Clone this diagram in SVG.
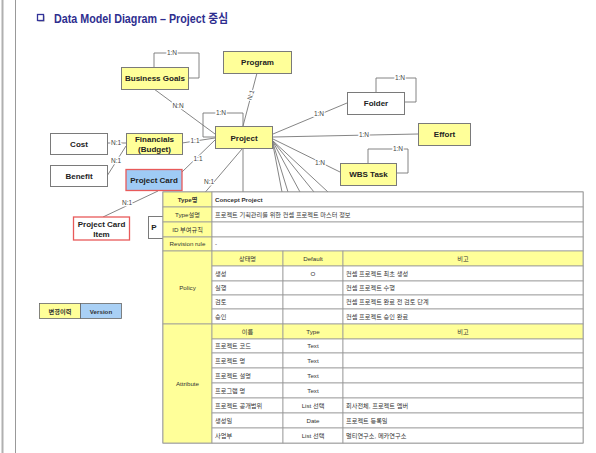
<svg xmlns="http://www.w3.org/2000/svg" width="596" height="453" viewBox="0 0 596 453">
<defs>
<style>
.n{stroke:#7a7a7a;stroke-width:1}
.y{fill:#ffff99}
.w{fill:#ffffff}
.nt{font-family:"Liberation Sans","Noto Sans CJK KR",sans-serif;font-size:8px;font-weight:bold;fill:#222;text-anchor:middle}
.c{stroke:#777;stroke-width:0.9;fill:none}
.lb{font-family:"Liberation Sans",sans-serif;font-size:6.5px;fill:#444;text-anchor:middle;stroke:#fff;stroke-width:2.5px;paint-order:stroke}
.cell{stroke:#999;stroke-width:0.8}
.t{font-family:"Liberation Sans","Noto Sans CJK KR",sans-serif;font-size:6.2px;fill:#333}
.tc{text-anchor:middle}
</style>
</defs>
<rect width="596" height="453" fill="#fff"/>
<line x1="2.5" y1="0" x2="2.5" y2="453" stroke="#b0b0b0" stroke-width="2"/>
<line x1="15.5" y1="0" x2="15.5" y2="453" stroke="#999" stroke-width="1"/>
<g id="title">
<rect x="38.5" y="15.5" width="6" height="6" fill="#999"/>
<rect x="37.5" y="14.5" width="6" height="6" fill="#fff" stroke="#333399" stroke-width="1.3"/>
<text x="54" y="23" font-family="Liberation Sans,Noto Sans CJK KR,sans-serif" font-size="12.5" font-weight="bold" fill="#2e2e8f" textLength="174" lengthAdjust="spacingAndGlyphs">Data Model Diagram – Project 중심</text>
</g>
<g id="connectors">
<polyline class="c" points="154,67 154,53 199,53 199,78 188,78"/>
<line class="c" x1="154" y1="89" x2="215" y2="134"/>
<line class="c" x1="257" y1="73" x2="243" y2="126"/>
<polyline class="c" points="243,126 243,113 203,113 203,137 215,137"/>
<line class="c" x1="182" y1="143" x2="215" y2="138"/>
<line class="c" x1="182" y1="172" x2="215" y2="140"/>
<line class="c" x1="107" y1="143" x2="126" y2="143"/>
<line class="c" x1="126" y1="146" x2="107" y2="176"/>
<line class="c" x1="103" y1="217" x2="158" y2="191"/>
<line class="c" x1="243" y1="149" x2="243" y2="192"/>
<line class="c" x1="242" y1="149" x2="185" y2="216"/>
<line class="c" x1="273" y1="134" x2="347" y2="103"/>
<polyline class="c" points="376,92 376,78 416,78 416,102 404,102"/>
<line class="c" x1="273" y1="137" x2="418" y2="134"/>
<line class="c" x1="273" y1="139" x2="340" y2="172"/>
<polyline class="c" points="368,163 368,149 408,149 408,173 396,173"/>
<line class="c" x1="272" y1="140" x2="282" y2="192"/>
<line class="c" x1="272" y1="140" x2="288" y2="192"/>
<line class="c" x1="272" y1="140" x2="300" y2="192"/>
<line class="c" x1="272" y1="140" x2="314" y2="192"/>
<line class="c" x1="272" y1="140" x2="328" y2="192"/>
<text class="lb" x="172" y="55">1:N</text>
<text class="lb" x="178" y="108">N:N</text>
<text class="lb" transform="translate(251,95) rotate(-72)" y="2">N:1</text>
<text class="lb" x="221" y="115">1:N</text>
<text class="lb" x="319" y="116">1:N</text>
<text class="lb" x="400" y="80">1:N</text>
<text class="lb" x="364" y="137">1:N</text>
<text class="lb" x="320" y="165">1:N</text>
<text class="lb" x="398" y="151">1:N</text>
<text class="lb" x="116" y="145">N:1</text>
<text class="lb" x="116" y="163">N:1</text>
<text class="lb" x="195" y="143">1:1</text>
<text class="lb" x="198" y="161">1:1</text>
<text class="lb" x="127" y="205">N:1</text>
<text class="lb" x="209" y="184">N:1</text>
</g>
<g id="business-goals"><rect class="n y" x="121.5" y="67.5" width="67" height="22"/><text class="nt" x="155" y="81">Business Goals</text></g>
<g id="program"><rect class="n y" x="223.5" y="51.5" width="68" height="22"/><text class="nt" x="257.5" y="65">Program</text></g>
<g id="project"><rect class="n y" x="215.5" y="126.5" width="57" height="22"/><text class="nt" x="244" y="141" font-size="9">Project</text></g>
<g id="folder"><rect class="n w" x="347.5" y="92.5" width="57" height="22"/><text class="nt" x="376" y="106">Folder</text></g>
<g id="effort"><rect class="n y" x="418.5" y="123.5" width="52" height="22"/><text class="nt" x="444.5" y="137">Effort</text></g>
<g id="wbs-task"><rect class="n y" x="340.5" y="163.5" width="56" height="22"/><text class="nt" x="368.5" y="177">WBS Task</text></g>
<g id="financials"><rect class="n y" x="126.5" y="133.5" width="56" height="21"/><text class="nt" x="154.5" y="142">Financials</text><text class="nt" x="154.5" y="151.5">(Budget)</text></g>
<g id="cost"><rect class="n w" x="50.5" y="133.5" width="57" height="21"/><text class="nt" x="79" y="147">Cost</text></g>
<g id="benefit"><rect class="n w" x="50.5" y="165.5" width="57" height="21"/><text class="nt" x="79" y="179">Benefit</text></g>
<g id="project-card"><rect x="126" y="169.5" width="56" height="21" fill="#9fcbf5" stroke="#e85a5a" stroke-width="1.3"/><text class="nt" x="154" y="183" font-size="8.5">Project Card</text></g>
<g id="project-card-item"><rect x="73.5" y="217" width="56" height="23" fill="#fff" stroke="#e85a5a" stroke-width="1.3"/><text class="nt" x="101.5" y="227">Project Card</text><text class="nt" x="101.5" y="236.5">Item</text></g>
<g id="hidden-node"><rect class="n w" x="148.5" y="216.5" width="40" height="22"/><text class="nt" x="154" y="230">P</text></g>
<g id="history"><rect x="39.5" y="303.5" width="41" height="15" fill="#ffff99" stroke="#666" stroke-width="0.8"/><rect x="80.5" y="303.5" width="41" height="15" fill="#a9d0f5" stroke="#666" stroke-width="0.8"/>
<text class="t tc" x="60" y="313.5" font-size="7" font-weight="bold">변경이력</text><text class="t tc" x="101" y="313.5" font-size="7" font-weight="bold">Version</text></g>
<g id="table">
<rect x="163" y="192" width="420" height="251" fill="#fff" stroke="#888" stroke-width="1"/>
<rect class="cell y" x="163" y="192" width="49" height="15"/><rect class="cell w" x="212" y="192" width="371" height="15"/>
<rect class="cell y" x="163" y="207" width="49" height="15"/><rect class="cell w" x="212" y="207" width="371" height="15"/>
<rect class="cell y" x="163" y="222" width="49" height="15"/><rect class="cell w" x="212" y="222" width="371" height="15"/>
<rect class="cell y" x="163" y="237" width="49" height="14"/><rect class="cell w" x="212" y="237" width="371" height="14"/>
<rect class="cell y" x="163" y="251" width="49" height="73"/>
<rect class="cell y" x="212" y="251" width="71" height="15"/><rect class="cell y" x="283" y="251" width="60" height="15"/><rect class="cell y" x="343" y="251" width="240" height="15"/>
<rect class="cell w" x="212" y="266" width="71" height="15"/><rect class="cell w" x="283" y="266" width="60" height="15"/><rect class="cell w" x="343" y="266" width="240" height="15"/>
<rect class="cell w" x="212" y="281" width="71" height="14"/><rect class="cell w" x="283" y="281" width="60" height="14"/><rect class="cell w" x="343" y="281" width="240" height="14"/>
<rect class="cell w" x="212" y="295" width="71" height="14"/><rect class="cell w" x="283" y="295" width="60" height="14"/><rect class="cell w" x="343" y="295" width="240" height="14"/>
<rect class="cell w" x="212" y="309" width="71" height="15"/><rect class="cell w" x="283" y="309" width="60" height="15"/><rect class="cell w" x="343" y="309" width="240" height="15"/>
<rect class="cell y" x="163" y="324" width="49" height="119"/>
<rect class="cell y" x="212" y="324" width="71" height="15"/><rect class="cell y" x="283" y="324" width="60" height="15"/><rect class="cell y" x="343" y="324" width="240" height="15"/>
<rect class="cell w" x="212" y="339" width="71" height="14"/><rect class="cell w" x="283" y="339" width="60" height="14"/><rect class="cell w" x="343" y="339" width="240" height="14"/>
<rect class="cell w" x="212" y="353" width="71" height="15"/><rect class="cell w" x="283" y="353" width="60" height="15"/><rect class="cell w" x="343" y="353" width="240" height="15"/>
<rect class="cell w" x="212" y="368" width="71" height="15"/><rect class="cell w" x="283" y="368" width="60" height="15"/><rect class="cell w" x="343" y="368" width="240" height="15"/>
<rect class="cell w" x="212" y="383" width="71" height="15"/><rect class="cell w" x="283" y="383" width="60" height="15"/><rect class="cell w" x="343" y="383" width="240" height="15"/>
<rect class="cell w" x="212" y="398" width="71" height="15"/><rect class="cell w" x="283" y="398" width="60" height="15"/><rect class="cell w" x="343" y="398" width="240" height="15"/>
<rect class="cell w" x="212" y="413" width="71" height="15"/><rect class="cell w" x="283" y="413" width="60" height="15"/><rect class="cell w" x="343" y="413" width="240" height="15"/>
<rect class="cell w" x="212" y="428" width="71" height="15"/><rect class="cell w" x="283" y="428" width="60" height="15"/><rect class="cell w" x="343" y="428" width="240" height="15"/>
<text class="t tc" x="187.5" y="201.5" font-weight="bold">Type명</text><text class="t" x="215" y="201.5" font-weight="bold">Concept Project</text>
<text class="t tc" x="187.5" y="216.5">Type설명</text><text class="t" x="215" y="216.5">프로젝트 기획관리를 위한 컨셉 프로젝트 마스터 정보</text>
<text class="t tc" x="187.5" y="231.5">ID 부여규칙</text>
<text class="t tc" x="187.5" y="246">Revision rule</text><text class="t" x="215" y="246">-</text>
<text class="t tc" x="187.5" y="290">Policy</text>
<text class="t tc" x="247.5" y="260.5">상태명</text><text class="t tc" x="313" y="260.5">Default</text><text class="t tc" x="463" y="260.5">비고</text>
<text class="t" x="215" y="275.5">생성</text><text class="t tc" x="313" y="275.5">O</text><text class="t" x="346" y="275.5">컨셉 프로젝트 최초 생성</text>
<text class="t" x="215" y="290">실행</text><text class="t" x="346" y="290">컨셉 프로젝트 수행</text>
<text class="t" x="215" y="304">검토</text><text class="t" x="346" y="304">컨셉 프로젝트 완료 전 검토 단계</text>
<text class="t" x="215" y="318.5">승인</text><text class="t" x="346" y="318.5">컨셉 프로젝트 승인 완료</text>
<text class="t tc" x="187.5" y="386">Attribute</text>
<text class="t tc" x="247.5" y="333.5">이름</text><text class="t tc" x="313" y="333.5">Type</text><text class="t tc" x="463" y="333.5">비고</text>
<text class="t" x="215" y="348">프로젝트 코드</text><text class="t tc" x="313" y="348">Text</text>
<text class="t" x="215" y="362.5">프로젝트 명</text><text class="t tc" x="313" y="362.5">Text</text>
<text class="t" x="215" y="377.5">프로젝트 설명</text><text class="t tc" x="313" y="377.5">Text</text>
<text class="t" x="215" y="392.5">프로그램 명</text><text class="t tc" x="313" y="392.5">Text</text>
<text class="t" x="215" y="407.5">프로젝트 공개범위</text><text class="t tc" x="313" y="407.5">List 선택</text><text class="t" x="346" y="407.5">회사전체, 프로젝트 멤버</text>
<text class="t" x="215" y="422.5">생성일</text><text class="t tc" x="313" y="422.5">Date</text><text class="t" x="346" y="422.5">프로젝트 등록일</text>
<text class="t" x="215" y="437.5">사업부</text><text class="t tc" x="313" y="437.5">List 선택</text><text class="t" x="346" y="437.5">멀티연구소, 메카연구소</text>
</g>
</svg>
